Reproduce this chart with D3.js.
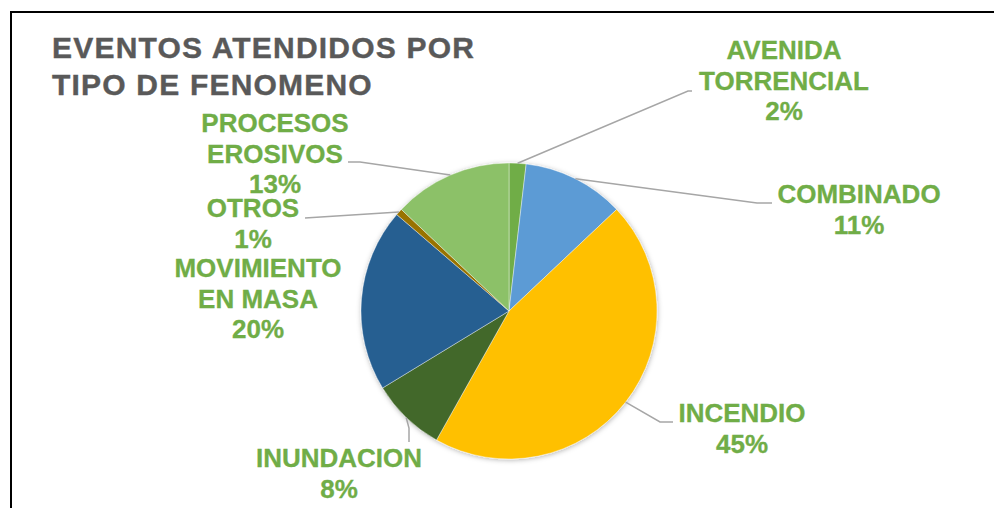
<!DOCTYPE html>
<html>
<head>
<meta charset="utf-8">
<script src="https://cdn.jsdelivr.net/npm/d3@7"></script>
<style>
  html, body { margin: 0; padding: 0; background: #fff; }
  svg { display: block; }
  text { font-family: "Liberation Sans", Arial, sans-serif; font-weight: bold; }
</style>
</head>
<body>
<svg id="chart" width="994" height="508"></svg>
<script>
// ---- data ----
const title = ["EVENTOS ATENDIDOS POR", "TIPO DE FENOMENO"];
const categories = ["AVENIDA\nTORRENCIAL", "COMBINADO", "INCENDIO", "INUNDACION", "MOVIMIENTO\nEN MASA", "OTROS", "PROCESOS\nEROSIVOS"];
const values = [5, 30, 122, 22, 54, 2, 35];
const colors = ["#70AD47", "#5B9BD5", "#FFC000", "#43682B", "#255E91", "#997300", "#8CC168"];

// ---- layout (label placement, leader line elbows) ----
const labelLayout = [
  { cx: 784, y: 59,  line: [[688, 91], [692, 91]] },
  { cx: 859, y: 203, line: [[757, 203], [772, 203]] },
  { cx: 742, y: 422, line: [[660, 422], [673, 422]] },
  { cx: 339, y: 467, line: [[409, 428], [409, 442]] },
  { cx: 258, y: 277, line: null },
  { cx: 253, y: 217, line: [[305, 218]] },
  { cx: 275, y: 132, line: [[360, 162], [348, 162]] }
];

const svg = d3.select("#chart");
const W = 994, H = 508;
const cx = 509, cy = 311, R = 148;
const lineH = 30.5;

// border (top + left only visible)
svg.append("line").attr("x1", 11).attr("y1", 12).attr("x2", W).attr("y2", 12)
  .attr("stroke", "#000").attr("stroke-width", 2);
svg.append("line").attr("x1", 11).attr("y1", 11).attr("x2", 11).attr("y2", H)
  .attr("stroke", "#000").attr("stroke-width", 2);

// title
const t = svg.append("text").attr("fill", "#595959").attr("font-size", 30)
  .attr("letter-spacing", 1.2).attr("stroke", "#595959").attr("stroke-width", 0.4);
title.forEach((s, i) => t.append("tspan").attr("x", 52).attr("y", 58 + i * 37).text(s));

// shadow filter
const defs = svg.append("defs");
const f = defs.append("filter").attr("id", "sh").attr("x", "-20%").attr("y", "-20%")
  .attr("width", "140%").attr("height", "140%");
f.append("feDropShadow").attr("dx", 0.5).attr("dy", 1).attr("stdDeviation", 2.5)
  .attr("flood-color", "#000").attr("flood-opacity", 0.3);

const pie = d3.pie().sort(null).value(d => d);
const arcs = pie(values);
const arc = d3.arc().innerRadius(0).outerRadius(R);
const edge = d3.arc().innerRadius(R).outerRadius(R);
const total = d3.sum(values);

const g = svg.append("g").attr("transform", `translate(${cx},${cy})`);
g.append("g").attr("filter", "url(#sh)")
  .selectAll("path").data(arcs).join("path")
  .attr("d", arc)
  .attr("fill", (d, i) => colors[i])
  .attr("stroke", "#fff").attr("stroke-width", 0.4);

// leader lines
arcs.forEach((d, i) => {
  const L = labelLayout[i];
  if (!L.line) return;
  const p = edge.centroid(d);
  const pts = [[p[0] + cx, p[1] + cy]].concat(L.line);
  svg.append("path")
    .attr("d", d3.line()(pts))
    .attr("fill", "none").attr("stroke", "#A6A6A6").attr("stroke-width", 1.5);
});

// labels
const pct = v => Math.round(v / total * 100) + "%";
arcs.forEach((d, i) => {
  const L = labelLayout[i];
  const lines = categories[i].split("\n").concat([pct(values[i])]);
  const tx = svg.append("text").attr("fill", "#70AD47").attr("font-size", 26)
    .attr("text-anchor", "middle").attr("stroke", "#70AD47").attr("stroke-width", 0.3);
  lines.forEach((s, k) => tx.append("tspan").attr("x", L.cx).attr("y", L.y + k * lineH).text(s));
});
</script>
</body>
</html>
